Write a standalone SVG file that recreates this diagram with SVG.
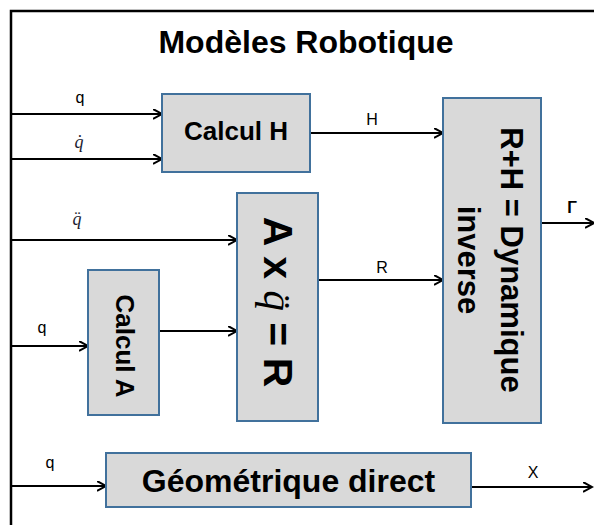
<svg xmlns="http://www.w3.org/2000/svg" width="594" height="525" viewBox="0 0 594 525">
<style>
.box{fill:#d9d9d9;stroke:#41719c;stroke-width:2}
.bt{font-family:"Liberation Sans",Arial,sans-serif;font-weight:bold;fill:#000;text-anchor:middle}
.lbl{font-family:"Liberation Sans",Arial,sans-serif;font-size:16px;fill:#000;text-anchor:middle}
.math{font-family:"Liberation Serif","Times New Roman",serif;font-style:italic;font-size:18px;fill:#1a1a2e;text-anchor:middle}
.conn{stroke:#000;stroke-width:2;fill:none;marker-end:url(#arr)}
</style>
<defs>
<marker id="arr" markerUnits="userSpaceOnUse" markerWidth="12" markerHeight="12" refX="9" refY="5" orient="auto">
<path d="M0,0 L9,5 L0,10" fill="none" stroke="#000" stroke-width="2"/>
</marker>
</defs>
<rect width="594" height="525" fill="#fff"/>
<path d="M594,11 H11 V525" fill="none" stroke="#000" stroke-width="2.5"/>
<text class="bt" x="306" y="53" font-size="32">Modèles Robotique</text>

<g id="connectors">
<path class="conn" d="M11,114 H162"/>
<path class="conn" d="M11,159 H162"/>
<path class="conn" d="M11,240 H237"/>
<path class="conn" d="M11,346 H88"/>
<path class="conn" d="M159,331 H237"/>
<path class="conn" d="M310,133 H443"/>
<path class="conn" d="M318,280 H443"/>
<path class="conn" d="M541,223 H594"/>
<path class="conn" d="M11,486 H106"/>
<path class="conn" d="M471,487 H592"/>
<text class="lbl" x="80" y="103">q</text>
<text class="math" x="79" y="148">q̇</text>
<text class="math" x="77" y="225">q̈</text>
<text class="lbl" x="42" y="333">q</text>
<text class="lbl" x="50" y="468">q</text>
<text class="lbl" x="372" y="125">H</text>
<text class="lbl" x="382" y="273">R</text>
<text class="lbl" x="572" y="213" font-weight="bold">Γ</text>
<text class="lbl" x="533" y="478">X</text>
</g>

<g id="calcul-h">
<rect class="box" x="162" y="94" width="148" height="78"/>
<text class="bt" x="236" y="140" font-size="26">Calcul H</text>
</g>

<g id="calcul-a">
<rect class="box" x="88" y="270" width="71" height="145"/>
<text class="bt" font-size="26" transform="translate(116,346) rotate(90)">Calcul A</text>
</g>

<g id="a-x-qdd">
<rect class="box" x="237" y="193" width="81" height="228"/>
<text class="bt" font-size="41" transform="translate(264,302) rotate(90)">A x <tspan font-family="Liberation Serif,serif" font-style="italic" font-weight="normal">q̈</tspan> = R</text>
</g>

<g id="dynamique-inverse">
<rect class="box" x="443" y="98" width="98" height="325"/>
<text class="bt" font-size="31" transform="translate(501,260) rotate(90)"><tspan x="0" y="0">R+H = Dynamique</tspan><tspan x="0" y="43">inverse</tspan></text>
</g>

<g id="geometrique-direct">
<rect class="box" x="106" y="453" width="365" height="54"/>
<text class="bt" x="288.5" y="492" font-size="32">Géométrique direct</text>
</g>
</svg>
